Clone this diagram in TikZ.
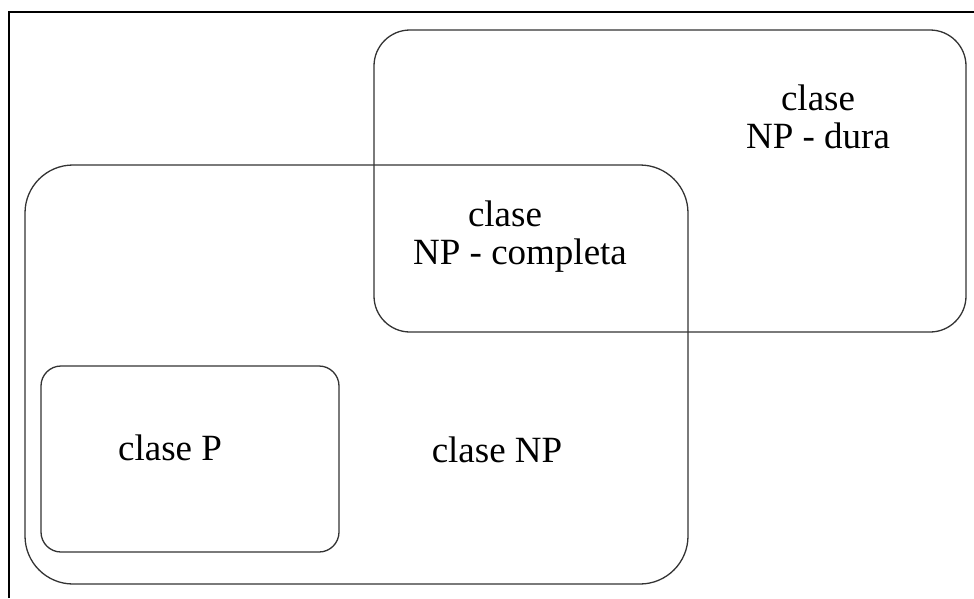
\documentclass[tikz,border=0pt]{standalone}
\usepackage{fontspec}
\setmainfont{Liberation Serif}
\tikzset{
  classbox/.style={draw=black!80, line width=1.3pt},
  classlabel/.style={align=center, inner sep=0pt, font=\fontsize{37}{38}\selectfont}
}
\begin{document}
\begin{tikzpicture}[x=1pt,y=-1pt]
          \useasboundingbox (0,0) rectangle (974,598);
          % frame
          \draw[black, line width=1.5pt] (9,598) -- (9,12) -- (974,12);
          % class regions
          \draw[classbox, rounded corners=36] (374,30) rectangle (966,332);
          \draw[classbox, rounded corners=48] (25,165) rectangle (688,584);
          \draw[classbox, rounded corners=20] (41,366) rectangle (339,552);
          % labels
          \node[classlabel] (dura) at (818,117) {clase\\NP - dura};
          \node[classlabel] (completa) at (520,237) {clase\hspace*{30pt}\\NP - completa};
          \node[classlabel] (clasep) at (170,448) {clase P};
          \node[classlabel] (clasenp) at (497,450) {clase NP};
        \end{tikzpicture}
\end{document}
